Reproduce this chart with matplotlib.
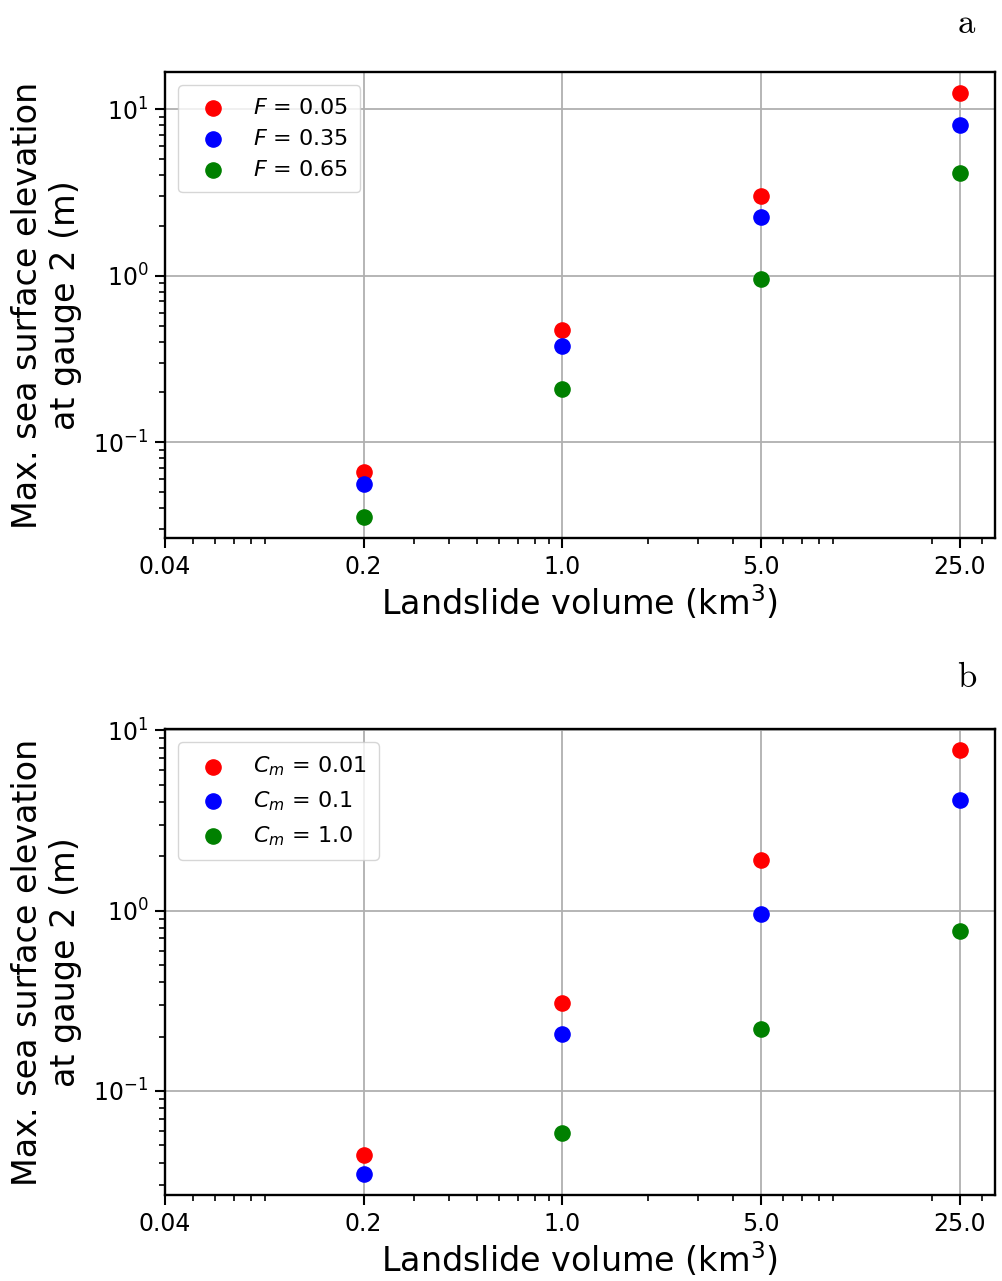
import matplotlib
matplotlib.use("Agg")
import matplotlib.pyplot as plt
from matplotlib.ticker import NullFormatter

volumes = [0.2, 1.0, 5.0, 25.0]
xtick_vals = [0.04, 0.2, 1.0, 5.0, 25.0]
xtick_labels = ["0.04", "0.2", "1.0", "5.0", "25.0"]

# panel a: friction coefficient F
f_labels = [r"$F$ = 0.05", r"$F$ = 0.35", r"$F$ = 0.65"]
f_red = [0.0657, 0.473, 3.02, 12.5]
f_blue = [0.0556, 0.378, 2.25, 8.1]
f_green = [0.0355, 0.207, 0.96, 4.14]

# panel b: drag coefficient Cm (no result for Cm = 1.0 at 0.2 km3)
cm_labels = [r"$C_m$ = 0.01", r"$C_m$ = 0.1", r"$C_m$ = 1.0"]
cm_red = [0.0443, 0.308, 1.91, 7.75]
cm_blue = [0.0346, 0.206, 0.96, 4.1]
cm_green_x = [1.0, 5.0, 25.0]
cm_green = [0.058, 0.22, 0.77]

colors = ["red", "blue", "green"]

fig = plt.figure(figsize=(10.03, 12.81), dpi=100)
ax_a = fig.add_axes([0.1645, 0.580, 0.8275, 0.3638])
ax_b = fig.add_axes([0.1645, 0.0671, 0.8275, 0.3638])

series_a = [(volumes, f_red), (volumes, f_blue), (volumes, f_green)]
series_b = [(volumes, cm_red), (volumes, cm_blue), (cm_green_x, cm_green)]

for ax, series, labels in [(ax_a, series_a, f_labels), (ax_b, series_b, cm_labels)]:
    for (xs, ys), c, lab in zip(series, colors, labels):
        ax.scatter(xs, ys, s=120, c=c, label=lab, zorder=3)
    ax.set_xscale("log")
    ax.set_yscale("log")
    ax.set_xlim(0.04, 33.3)
    ax.set_xticks(xtick_vals)
    ax.set_xticklabels(xtick_labels)
    ax.xaxis.set_minor_formatter(NullFormatter())
    ax.yaxis.set_minor_formatter(NullFormatter())
    ax.grid(True, which="major", color="#b0b0b0", linewidth=1.3)
    ax.tick_params(which="major", labelsize=17, length=7, width=1.5, pad=5)
    ax.tick_params(which="minor", length=4, width=1.2)
    for sp in ax.spines.values():
        sp.set_linewidth(1.7)
    ax.set_xlabel(r"Landslide volume (km$^3$)", fontsize=24, labelpad=3)
    ax.set_ylabel("Max. sea surface elevation\nat gauge 2 (m)", fontsize=24,
                  labelpad=8)
    ax.legend(loc="upper left", fontsize=16, handletextpad=0.8,
              borderpad=0.55, labelspacing=0.5, borderaxespad=0.6)

fig.text(0.964, 0.995, r"$\mathrm{a}$", fontsize=25, ha="center", va="top",
         math_fontfamily="cm")
fig.text(0.964, 0.4845, r"$\mathrm{b}$", fontsize=25, ha="center", va="top",
         math_fontfamily="cm")

fig.savefig("out.png", dpi=100)
